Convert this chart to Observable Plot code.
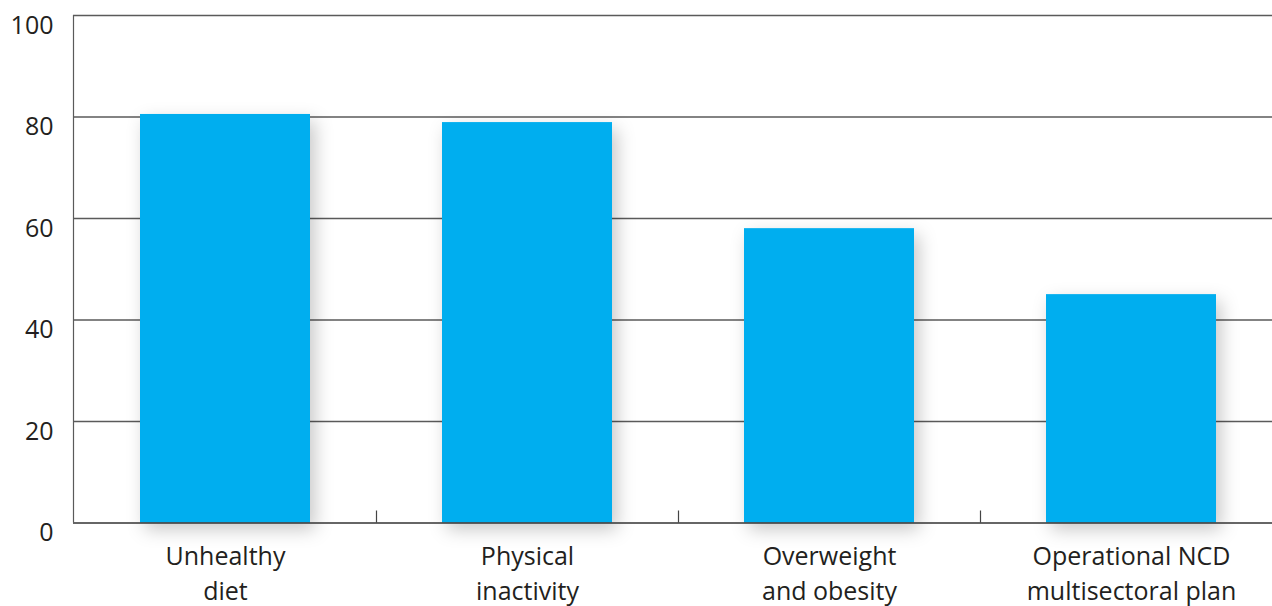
<!DOCTYPE html>
<html>
<head>
<meta charset="utf-8">
<script src="https://cdn.jsdelivr.net/npm/d3@7"></script>
<script src="https://cdn.jsdelivr.net/npm/@observablehq/plot@0.6"></script>
<style>
  html, body { margin: 0; padding: 0; background: #fff; overflow: hidden; }
  #chart svg { display: block; }
  .bars { filter: drop-shadow(5px 7px 9px rgba(0,0,0,0.22)); }
</style>
</head>
<body>
<div id="chart"></div>
<script>
const categories = ["Unhealthy diet", "Physical inactivity", "Overweight and obesity", "Operational NCD multisectoral plan"];
const categoryLabels = ["Unhealthy\ndiet", "Physical\ninactivity", "Overweight\nand obesity", "Operational NCD\nmultisectoral plan"];
const values = [80.5, 78.9, 58.0, 45.0];
const yTicks = [0, 20, 40, 60, 80, 100];

const data = categories.map((c, i) => ({category: c, value: values[i]}));
const labelOf = new Map(categories.map((c, i) => [c, categoryLabels[i]]));

const W = 1272, H = 606, mL = 73, mT = 15, mB = 83.5;
const xRangeStart = 74, xRangeEnd = 1282;
const step = (xRangeEnd - xRangeStart) / categories.length;
const tickLen = 12 * 100 / (H - mT - mB);
const textColor = "#231f20";
const gridColor = "#5a5a5a";

const chart = Plot.plot({
  width: W,
  height: H,
  marginLeft: mL,
  marginRight: 0,
  marginTop: mT,
  marginBottom: mB,
  style: {fontFamily: "'Open Sans', sans-serif", fontSize: "25px", color: textColor, background: "#fff"},
  x: {domain: categories, range: [xRangeStart, xRangeEnd], paddingInner: 0.437, paddingOuter: 0.2185, label: null},
  y: {domain: [0, 100], label: null},
  marks: [
    Plot.ruleY(yTicks.filter(d => d > 0), {stroke: gridColor, strokeWidth: 1.4}),
    Plot.barY(data, {x: "category", y: "value", fill: "#00aeef", className: "bars"}),
    Plot.ruleX(categories.slice(1), {x: d => d, y1: 0, y2: tickLen, dx: -step / 2, stroke: "#444", strokeWidth: 1.2}),
    Plot.ruleY([0], {stroke: "#333", strokeWidth: 1.4}),
    Plot.ruleX([categories[0]], {x: d => d, y1: 0, y2: 100, dx: -step / 2 - 1, stroke: gridColor, strokeWidth: 1.2}),
    Plot.axisY({ticks: yTicks, tickSize: 0, tickPadding: 20, dy: 10, fontSize: 25, fill: textColor, label: null}),
    Plot.axisX({tickSize: 0, tickPadding: 17, tickFormat: d => labelOf.get(d), lineHeight: 1.4, fontSize: 25, fill: textColor, label: null})
  ]
});
document.getElementById("chart").append(chart);
</script>
</body>
</html>
